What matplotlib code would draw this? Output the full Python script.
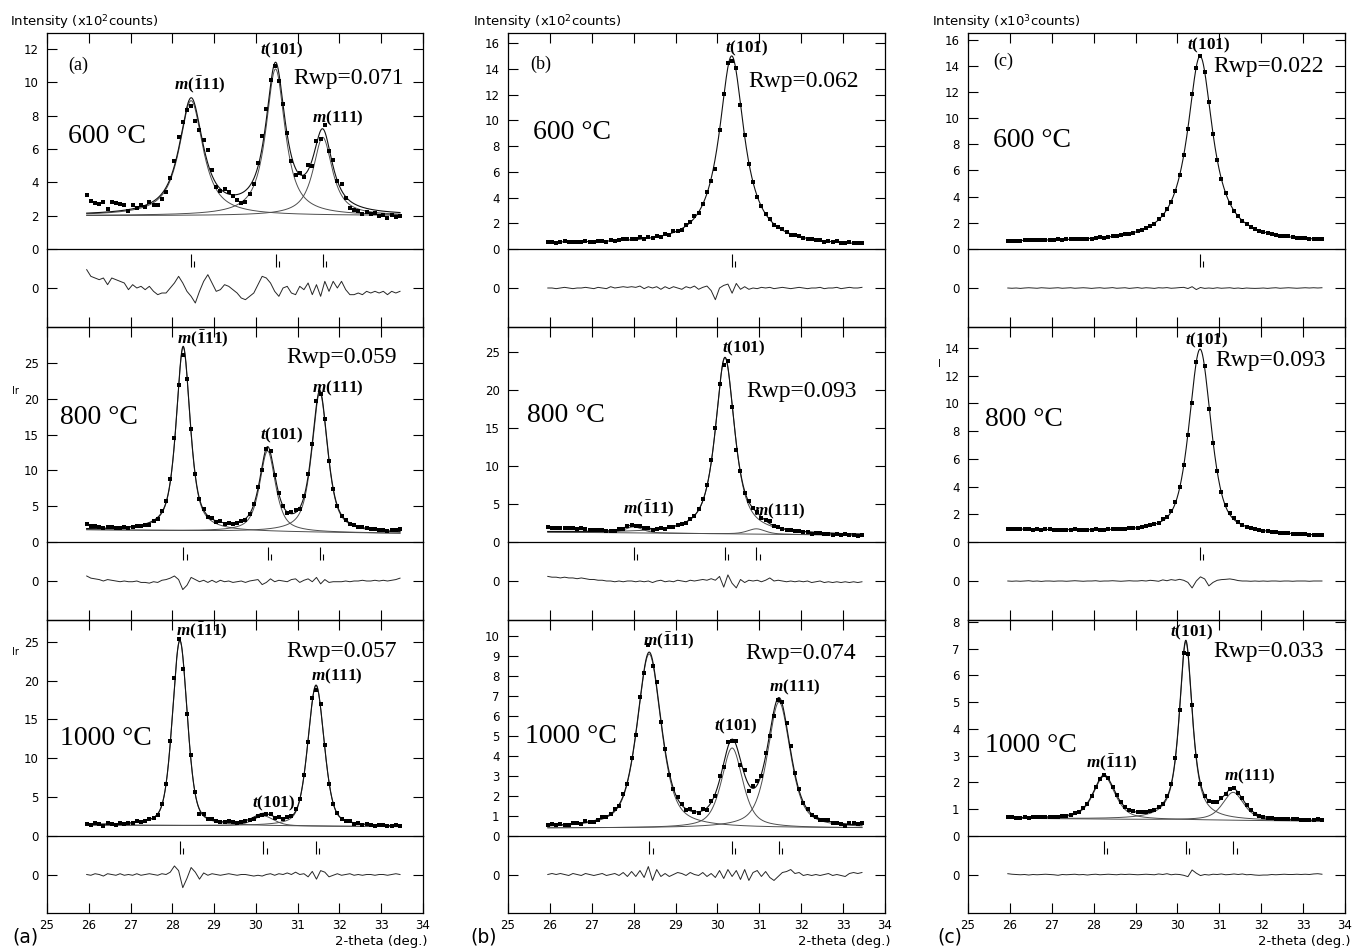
import numpy as np
import matplotlib
matplotlib.use("Agg")
from matplotlib import pyplot as plt

# Rietveld fits of the (-111)/(101)/(111) region, three samples x three temperatures

plt.rcParams["font.family"] = "DejaVu Sans"
plt.rcParams["mathtext.fontset"] = "custom"
plt.rcParams["mathtext.rm"] = "Liberation Serif:bold"
plt.rcParams["mathtext.it"] = "Liberation Serif:italic:bold"
plt.rcParams["mathtext.bf"] = "Liberation Serif:bold"
plt.rcParams["mathtext.sf"] = "DejaVu Sans"

# scan grid, 2-theta (deg.)
two_theta = np.round(np.arange(25.95, 33.46, 0.1), 2)

# reflections
M_BAR = r"$m(\bar{1}11)$"
T_101 = r"$t(101)$"
M_111 = r"$m(111)$"

temperatures = ["600", "800", "1000"]
samples = ["a", "b", "c"]
exponents = [2, 2, 3]

# ---------------- sample (a) ----------------
a600_centre = [28.45, 30.47, 31.60]
a600_height = [6.9, 8.8, 4.7]
a600_fwhm = [0.68, 0.55, 0.55]
a600_eta = [0.9, 0.9, 0.9]
a600_bg = [2.0, 2.0]
a600_diff = [1.1, 0.7, 0.6, 0.5, 0.6, 0.2, 0.6, 0.5, 0.4, 0.3,
             -0.1, 0.2, 0.0, 0.1, -0.1, 0.1, -0.2, -0.4, -0.3, -0.3,
             0.0, 0.3, 0.7, 0.3, -0.2, -0.5, -0.9, -0.2, 0.4, 0.8,
             0.3, -0.2, -0.1, 0.2, 0.1, -0.1, -0.3, -0.6, -0.7, -0.5,
             -0.3, 0.2, 0.7, 0.6, 0.3, -0.2, -0.5, 0.0, 0.1, -0.3,
             -0.4, 0.1, -0.1, 0.3, -0.4, 0.2, -0.5, 0.4, -0.2, 0.4,
             0.0, 0.4, -0.1, -0.4, -0.4, -0.3, -0.4, -0.2, -0.3, -0.2,
             -0.3, -0.2, -0.4, -0.2, -0.3, -0.2]

a800_centre = [28.26, 30.28, 31.53]
a800_height = [25.6, 11.3, 19.5]
a800_fwhm = [0.40, 0.45, 0.45]
a800_eta = [0.7, 0.7, 0.7]
a800_bg = [1.7, 1.2]
a800_diff = [0.7, 0.4, 0.3, 0.2, 0.0, 0.2, 0.1, 0.0, -0.1, 0.0,
             -0.1, -0.1, 0.0, -0.2, -0.2, -0.3, -0.1, -0.2, 0.1, 0.2,
             0.4, 0.7, 0.2, -1.2, -0.6, 0.5, 0.2, -0.1, 0.1, -0.2,
             0.1, -0.2, 0.1, -0.1, 0.0, -0.2, -0.1, 0.0, -0.2, 0.0,
             0.1, 0.2, -0.5, -0.2, 0.3, -0.1, 0.1, 0.0, -0.1, 0.2,
             0.3, -0.2, 0.1, 0.3, -0.1, 0.5, -0.4, 0.2, -0.2, -0.1,
             -0.1, -0.1, 0.0, -0.1, 0.0, 0.0, 0.1, 0.0, 0.0, 0.1,
             0.0, 0.1, 0.0, 0.1, 0.2, 0.4]

a1000_centre = [28.18, 30.18, 31.44]
a1000_height = [23.8, 1.3, 18.1]
a1000_fwhm = [0.42, 0.60, 0.46]
a1000_eta = [0.4, 0.5, 0.4]
a1000_bg = [1.4, 1.2]
a1000_diff = [0.0, -0.1, 0.1, 0.0, -0.2, 0.1, 0.0, -0.1, 0.1, -0.1,
              0.0, -0.1, 0.1, -0.1, 0.0, 0.1, 0.0, -0.1, 0.1, 0.0,
              0.3, 1.1, 0.5, -1.7, -0.5, 0.9, 0.3, -0.6, 0.2, -0.1,
              0.1, 0.0, -0.1, 0.0, 0.1, 0.0, -0.1, 0.0, 0.0, -0.1,
              -0.2, -0.1, -0.2, 0.0, 0.1, -0.1, 0.1, 0.0, 0.2, 0.0,
              0.3, 0.0, 0.1, -0.3, 0.4, -0.6, 0.5, 0.3, -0.3, -0.1,
              0.1, -0.1, 0.0, 0.1, -0.1, 0.0, -0.1, 0.0, 0.0, -0.1,
              0.0, 0.0, -0.1, 0.0, 0.1, 0.0]

# ---------------- sample (b) ----------------
b600_centre = [30.34]
b600_height = [14.7]
b600_fwhm = [0.72]
b600_eta = [1.0]
b600_bg = [0.45, 0.22]
b600_diff = [0.0, 0.0, -0.05, 0.0, 0.05, 0.0, -0.05, 0.0, 0.0, 0.05,
             0.0, -0.05, 0.05, 0.0, -0.05, 0.1, 0.0, 0.05, 0.1, 0.05,
             0.1, 0.05, 0.15, -0.05, 0.1, 0.0, 0.1, -0.1, 0.1, -0.05,
             0.1, 0.0, -0.1, 0.1, 0.0, 0.15, -0.1, 0.05, 0.15, -0.2,
             -0.9, 0.0, 0.2, 0.3, -0.4, 0.35, -0.1, 0.1, -0.1, 0.0,
             -0.05, 0.05, 0.0, 0.05, -0.05, 0.0, 0.05, 0.0, -0.05, 0.0,
             0.05, 0.0, -0.05, 0.0, 0.0, 0.05, -0.05, 0.0, 0.0, 0.05,
             -0.05, 0.0, 0.05, 0.0, 0.0, 0.05]

b800_centre = [28.00, 30.18, 30.93]
b800_height = [0.8, 23.2, 0.7]
b800_fwhm = [0.50, 0.55, 0.50]
b800_eta = [0.5, 0.8, 0.5]
b800_bg = [1.3, 0.9]
b800_diff = [0.6, 0.5, 0.5, 0.4, 0.5, 0.4, 0.4, 0.3, 0.4, 0.3,
             0.2, 0.2, 0.1, 0.1, 0.0, 0.0, -0.1, 0.0, -0.1, 0.0,
             0.0, -0.1, 0.0, -0.1, 0.0, -0.2, 0.0, 0.1, -0.1, 0.0,
             -0.1, 0.1, 0.0, -0.1, 0.1, 0.0, 0.1, 0.2, 0.1, 0.3,
             0.1, 0.6, -0.8, 0.8, -0.3, -0.9, 0.2, -0.2, 0.1, 0.0,
             0.1, -0.1, 0.1, 0.4, 0.0, 0.1, 0.0, -0.1, 0.0, -0.1,
             0.0, -0.1, 0.0, -0.2, -0.1, 0.0, -0.2, -0.1, -0.2, -0.1,
             -0.2, -0.1, -0.2, -0.1, -0.2, -0.1]

b1000_centre = [28.37, 30.35, 31.47]
b1000_height = [8.7, 4.0, 6.3]
b1000_fwhm = [0.68, 0.60, 0.65]
b1000_eta = [0.6, 0.6, 0.6]
b1000_bg = [0.4, 0.4]
b1000_diff = [0.0, 0.05, 0.0, 0.05, 0.0, -0.05, 0.05, 0.0, -0.05, 0.05,
              0.0, -0.05, 0.0, 0.05, -0.05, 0.0, 0.05, -0.05, 0.1, -0.1,
              0.15, -0.1, 0.2, -0.15, 0.4, -0.3, 0.25, -0.1, 0.05, -0.1,
              0.0, 0.1, 0.05, -0.05, 0.1, 0.0, -0.05, 0.1, -0.1, 0.05,
              -0.15, 0.2, -0.2, 0.25, -0.1, 0.2, -0.25, 0.25, -0.3, 0.1,
              0.2, -0.1, 0.15, -0.15, -0.3, -0.1, 0.1, 0.15, 0.25, 0.05,
              0.1, -0.05, 0.0, -0.05, 0.0, -0.05, 0.0, 0.05, -0.05, 0.0,
              -0.05, -0.1, 0.05, 0.1, 0.05, 0.1]

# ---------------- sample (c) ----------------
c600_centre = [30.54]
c600_height = [14.2]
c600_fwhm = [0.73]
c600_eta = [1.0]
c600_bg = [0.55, 0.52]
c600_diff = [0.0, -0.02, 0.0, -0.03, 0.0, 0.02, 0.0, -0.02, 0.02, 0.0,
             -0.02, 0.0, 0.02, -0.02, 0.0, 0.02, -0.02, 0.0, 0.02, 0.0,
             -0.03, 0.0, 0.02, -0.02, 0.0, 0.03, -0.02, 0.0, 0.02, -0.03,
             0.0, 0.03, -0.02, 0.02, 0.0, -0.03, 0.02, 0.0, 0.03, -0.02,
             0.0, 0.03, 0.05, -0.04, 0.1, -0.12, 0.04, -0.03, 0.0, -0.03,
             0.02, -0.02, 0.0, 0.02, -0.03, 0.0, -0.04, 0.0, -0.02, -0.03,
             -0.02, 0.0, -0.03, 0.0, 0.02, -0.02, 0.0, 0.02, 0.0, -0.02,
             0.0, 0.02, 0.0, 0.02, 0.0, 0.02]

c800_centre = [30.54]
c800_height = [13.3]
c800_fwhm = [0.62]
c800_eta = [0.6]
c800_bg = [0.91, 0.41]
c800_diff = [0.0, -0.02, 0.0, -0.02, 0.0, 0.02, -0.02, 0.0, -0.03, 0.0,
             0.0, -0.02, 0.0, 0.0, -0.02, 0.0, 0.02, 0.0, -0.02, 0.0,
             0.0, 0.02, -0.02, 0.0, 0.0, 0.02, 0.0, -0.02, 0.0, 0.02,
             0.0, 0.0, 0.03, 0.0, 0.05, 0.02, -0.02, 0.08, 0.02, 0.1,
             0.05, 0.12, 0.05, -0.1, -0.5, 0.0, 0.3, 0.15, -0.35, -0.1,
             0.05, 0.1, 0.12, 0.15, 0.1, 0.03, 0.0, 0.0, -0.02, 0.0,
             -0.02, 0.0, -0.02, 0.0, 0.0, -0.02, 0.0, 0.0, -0.02, 0.0,
             0.0, 0.0, -0.02, 0.0, 0.0, 0.0]

c1000_centre = [28.25, 30.20, 31.33]
c1000_height = [1.6, 6.65, 1.05]
c1000_fwhm = [0.62, 0.37, 0.60]
c1000_eta = [0.6, 0.8, 0.6]
c1000_bg = [0.66, 0.55]
c1000_diff = [0.03, 0.01, 0.0, -0.01, 0.0, -0.02, 0.0, -0.01, 0.0, 0.01,
              0.0, -0.01, -0.03, 0.0, -0.01, 0.0, 0.01, -0.01, 0.0, -0.02,
              0.0, 0.01, -0.01, 0.0, 0.01, 0.0, -0.01, 0.01, 0.0, 0.01,
              0.0, -0.01, 0.0, 0.01, 0.0, -0.01, 0.02, 0.0, 0.03, -0.01,
              0.01, 0.0, -0.03, -0.08, 0.17, 0.05, -0.04, 0.0, -0.02, 0.01,
              0.0, 0.02, -0.01, 0.0, 0.02, 0.0, 0.02, -0.01, 0.0, -0.02,
              -0.03, -0.02, -0.02, 0.0, -0.01, 0.0, 0.01, 0.0, 0.0, 0.01,
              0.0, 0.01, 0.0, 0.02, 0.03, 0.01]

rwp = [["0.071", "0.059", "0.057"],
       ["0.062", "0.093", "0.074"],
       ["0.022", "0.093", "0.033"]]

fits = [
    [(a600_centre, a600_height, a600_fwhm, a600_eta, a600_bg, a600_diff, [M_BAR, T_101, M_111]),
     (a800_centre, a800_height, a800_fwhm, a800_eta, a800_bg, a800_diff, [M_BAR, T_101, M_111]),
     (a1000_centre, a1000_height, a1000_fwhm, a1000_eta, a1000_bg, a1000_diff, [M_BAR, T_101, M_111])],
    [(b600_centre, b600_height, b600_fwhm, b600_eta, b600_bg, b600_diff, [T_101]),
     (b800_centre, b800_height, b800_fwhm, b800_eta, b800_bg, b800_diff, [M_BAR, T_101, M_111]),
     (b1000_centre, b1000_height, b1000_fwhm, b1000_eta, b1000_bg, b1000_diff, [M_BAR, T_101, M_111])],
    [(c600_centre, c600_height, c600_fwhm, c600_eta, c600_bg, c600_diff, [T_101]),
     (c800_centre, c800_height, c800_fwhm, c800_eta, c800_bg, c800_diff, [T_101]),
     (c1000_centre, c1000_height, c1000_fwhm, c1000_eta, c1000_bg, c1000_diff, [M_BAR, T_101, M_111])],
]


def profile(x, centre, height, fwhm, eta):
    # pseudo-Voigt peak
    u = (x - centre) / fwhm
    lor = 1.0 / (1.0 + 4.0 * u ** 2)
    gau = np.exp(-4.0 * np.log(2.0) * u ** 2)
    return height * (eta * lor + (1.0 - eta) * gau)


def background(x, bg):
    return bg[0] + (bg[1] - bg[0]) * (x - two_theta[0]) / (two_theta[-1] - two_theta[0])


# ---------------- layout (pixels) ----------------
W, H = 1354, 951
COL_X = [(47, 423), (508, 885), (968, 1345)]
ROW_MAIN = [(33, 249), (327, 542), (620, 836)]
ROW_DIFF = [(249, 327), (542, 620), (836, 913)]

YLIM = [[12.96, 30.0, 27.8], [16.8, 28.3, 10.8], [16.5, 15.5, 8.07]]
YSTEP = [[2, 5, 5], [2, 5, 1], [2, 2, 1]]
DLIM = [[2.34, 5.45, 4.96], [3.0, 5.1, 1.94], [2.98, 2.81, 1.44]]

TEMP_POS = [[(0.056, 0.52), (0.035, 0.58), (0.035, 0.45)],
            [(0.067, 0.54), (0.050, 0.59), (0.045, 0.46)],
            [(0.067, 0.50), (0.045, 0.57), (0.045, 0.42)]]
RWP_POS = [[(0.654, 0.79), (0.636, 0.86), (0.636, 0.853)],
           [(0.637, 0.776), (0.633, 0.70), (0.629, 0.847)],
           [(0.650, 0.844), (0.655, 0.846), (0.650, 0.853)]]
LABEL_POS = [[[(28.66, 9.84), (30.62, 11.94), (31.97, 7.84)],
              [(28.74, 28.2), (30.62, 14.9), (31.95, 21.5)],
              [(28.70, 26.3), (30.43, 4.2), (31.93, 20.5)]],
             [[(30.70, 15.6)],
              [(28.37, 4.3), (30.63, 25.5), (31.49, 3.97)],
              [(28.85, 9.72), (30.42, 5.49), (31.85, 7.45)]],
             [[(30.74, 15.57)],
              [(30.70, 14.57)],
              [(28.43, 2.73), (30.34, 7.62), (31.73, 2.21)]]]
LETTER_POS = [(0.056, 0.85), (0.058, 0.853), (0.067, 0.867)]
INTENSITY_X = [10, 473, 932]
BOTTOM_LETTER_X = [12, 470, 937]

SERIF = "Liberation Serif"
INK = "#111111"

fig = plt.figure(figsize=(W / 100, H / 100), dpi=100)


def add_px(left, top, right, bottom):
    a = fig.add_axes([left / W, 1 - bottom / H, (right - left) / W, (bottom - top) / H])
    a.patch.set_visible(False)
    return a


fine = np.linspace(two_theta[0], two_theta[-1], 1501)

for c in range(3):
    x0, x1 = COL_X[c]
    for r in range(3):
        centre, height, fwhm, eta, bg, diff, names = fits[c][r]
        peaks = list(zip(centre, height, fwhm, eta))

        ax = add_px(x0, ROW_MAIN[r][0], x1, ROW_MAIN[r][1])
        ax_d = add_px(x0, ROW_DIFF[r][0], x1, ROW_DIFF[r][1])

        # calculated profile, single components and observed points
        base = background(fine, bg)
        comps = [profile(fine, *p) for p in peaks]
        calc = base + np.sum(comps, axis=0)
        obs = background(two_theta, bg) + np.sum([profile(two_theta, *p) for p in peaks], axis=0) \
            + np.array(diff)

        if len(peaks) > 1:
            for comp in comps:
                ax.plot(fine, base + comp, color="0.3", lw=0.7)
        ax.plot(fine, calc, color=INK, lw=0.8)
        ax.plot(two_theta, obs, ls="none", marker="s", ms=3.2, mfc="k", mec="k", mew=0)

        ax.set_xlim(25, 34)
        ax.set_ylim(0, YLIM[c][r])
        ax.set_xticks(np.arange(25, 35))
        ax.set_yticks(np.arange(0, YLIM[c][r] - 0.05, YSTEP[c][r]))
        ax.tick_params(axis="x", direction="in", bottom=False, top=True, labelbottom=False,
                       length=7, width=0.8)
        ax.tick_params(axis="y", direction="in", left=True, right=True, length=7, width=0.8,
                       labelsize=8.5, pad=6)
        for s in ax.spines.values():
            s.set_linewidth(0.9)
            s.set_zorder(5)

        # difference curve and reflection markers
        ax_d.plot(two_theta, diff, color="0.15", lw=0.7)
        ax_d.set_xlim(25, 34)
        ax_d.set_ylim(-DLIM[c][r], DLIM[c][r])
        ax_d.set_yticks([0])
        ax_d.set_xticks(np.arange(25, 35))
        ax_d.spines["top"].set_visible(False)
        for s in ax_d.spines.values():
            s.set_linewidth(0.9)
        ax_d.tick_params(axis="x", direction="in", bottom=True, top=False, length=7, width=0.8,
                         labelbottom=(r == 2), labelsize=8.5, pad=4)
        ax_d.tick_params(axis="y", direction="in", left=True, right=True, length=7, width=0.8,
                         labelsize=8.5, pad=6)
        trans = ax_d.get_xaxis_transform()
        ax_d.vlines(centre, 0.77, 0.936, transform=trans, color="k", lw=0.8)
        ax_d.vlines(np.array(centre) + 0.08, 0.77, 0.85, transform=trans, color="k", lw=0.8)

        # annotations
        tx, ty = TEMP_POS[c][r]
        ax.text(tx, ty, temperatures[r] + " \u00b0C", transform=ax.transAxes, family=SERIF,
                fontsize=20, ha="left", va="center")
        rx, ry = RWP_POS[c][r]
        ax.text(rx, ry, "Rwp=" + rwp[c][r], transform=ax.transAxes, family=SERIF,
                fontsize=17, ha="left", va="center")
        for name, (lx, ly) in zip(names, LABEL_POS[c][r]):
            ax.text(lx, ly, name, fontsize=12.3, ha="center", va="center")
        if r == 0:
            px, py = LETTER_POS[c]
            ax.text(px, py, "(" + samples[c] + ")", transform=ax.transAxes, family=SERIF,
                    fontsize=13, ha="left", va="center")

    fig.text(INTENSITY_X[c] / W, 1 - 22 / H,
             r"Intensity (x10$^{\mathsf{%d}}$counts)" % exponents[c],
             fontsize=9.5, ha="left", va="center")
    fig.text(x1 / W + 5 / W, 1 - 942 / H, "2-theta (deg.)", fontsize=9.5, ha="right", va="center")
    fig.text(BOTTOM_LETTER_X[c] / W, 1 - 937 / H, "(" + samples[c] + ")", fontsize=13.5,
             ha="left", va="center")

# stray axis-label fragments
fig.text(12 / W, 1 - 391 / H, "Ir", fontsize=7, ha="left", va="center")
fig.text(12 / W, 1 - 652 / H, "Ir", fontsize=7, ha="left", va="center")
fig.text(938 / W, 1 - 364 / H, "I", fontsize=7, ha="left", va="center")

fig.savefig("out.png", dpi=100)
